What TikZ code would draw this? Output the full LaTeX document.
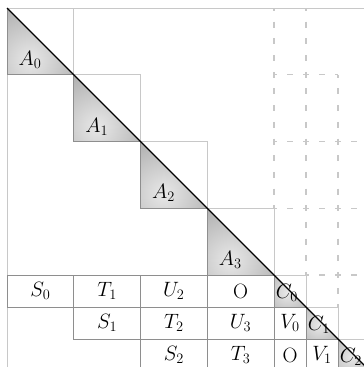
\documentclass[tikz,border=0pt]{standalone}
\usetikzlibrary{calc}
\definecolor{frm}{HTML}{C8C8C8}
\definecolor{cel}{HTML}{8E8E8E}
\tikzset{
  frame/.style={draw=frm,line width=0.9pt},
  hdash/.style={frame,line width=1.2pt,dash pattern=on 6pt off 10pt,dash phase=3pt},
  vdash/.style={frame,line width=1.2pt,dash pattern=on 6pt off 10.69pt,dash phase=3pt},
  edge/.style={draw=cel,line width=1pt},
  diag/.style={draw=black,line width=1.1pt},
  lbl/.style={font=\huge,inner sep=0pt},
  cell/.style={edge,font=\huge,inner sep=0pt,minimum width=66.75pt,minimum height=32pt},
  scell/.style={cell,minimum width=32pt},
}

\begin{document}
\begin{tikzpicture}[x=1pt,y=-1pt]
\clip (0,0) rectangle (364,367);
\fill[white] (0,0) rectangle (364,367);
% outer frame
\draw[frame] (364,8) -- (7,8) -- (7,367);
% dashed grid to the right
\foreach \xa/\ya/\yb in {274/8/74.75,274/74.75/141.5,274/141.5/208.25,
  306/8/74.75,306/74.75/141.5,306/141.5/208.25,306/208.25/275,
  338/74.75/141.5,338/141.5/208.25,338/208.25/275}
  \draw[vdash] (\xa,\ya) -- (\xa,\yb);
\draw[hdash] (338,275) -- (338,307);
\foreach \ya/\xa/\xb in {74.75/274/306,74.75/306/338,
  141.5/274/306,141.5/306/338,141.5/338/370,
  208.25/274/306,208.25/306/338,208.25/338/370,
  275/306/338,275/338/370}
  \draw[hdash] (\xa,\ya) -- (\xb,\ya);
% big diagonal blocks
\foreach \i in {0,...,3}{
  \pgfmathsetmacro\xa{7+66.75*\i}
  \pgfmathsetmacro\xb{\xa+66.75}
  \pgfmathsetmacro\ya{8+66.75*\i}
  \pgfmathsetmacro\yb{\ya+66.75}
  \begin{scope}
    \clip (\xa,\ya) -- (\xa,\yb) -- (\xb,\yb) -- cycle;
    \shade[inner color=gray!18,outer color=gray!80] (\xa+23,\yb-15) circle (78);
  \end{scope}
  \draw[frame] (\xa,\ya) -- (\xb,\ya) -- (\xb,\yb);
  \draw[edge] (\xa,\ya) -- (\xa,\yb) -- (\xb,\yb);
  \node[lbl] (A\i) at (\xa+23,\yb-15) {$A_{\i}$};
}
% small diagonal blocks
\foreach \i in {0,1,2}{
  \pgfmathsetmacro\xa{274+32*\i}
  \pgfmathsetmacro\xb{\xa+32}
  \pgfmathsetmacro\ya{275+32*\i}
  \pgfmathsetmacro\yb{\ya+32}
  \begin{scope}
    \clip (\xa,\ya) -- (\xa,\yb) -- (\xb,\yb) -- cycle;
    \shade[inner color=gray!18,outer color=gray!80] (\xa+13,\yb-14) circle (40);
  \end{scope}
  \draw[frame] (\xa,\ya) -- (\xb,\ya) -- (\xb,\yb);
  \draw[edge] (\xa,\ya) -- (\xa,\yb) -- (\xb,\yb);
}
% lower block rows
\foreach \c/\r/\t in {0/0/S_0,1/0/T_1,2/0/U_2,3/0/\mathrm{O},
  1/1/S_1,2/1/T_2,3/1/U_3,2/2/S_2,3/2/T_3}
  \node[cell] (c\c\r) at (7+66.75*\c+33.375,275+32*\r+16) {$\t$};
\foreach \c/\r/\t in {0/1/V_0,0/2/\mathrm{O},1/2/V_1}
  \node[scell] (v\c\r) at (274+32*\c+16,275+32*\r+16) {$\t$};
% main diagonal
\draw[diag] (7,8) -- (390,391);
\foreach \i in {0,1,2}
  \node[lbl] (C\i) at (274+32*\i+13,307+32*\i-14) {$C_{\i}$};
\end{tikzpicture}
\end{document}
